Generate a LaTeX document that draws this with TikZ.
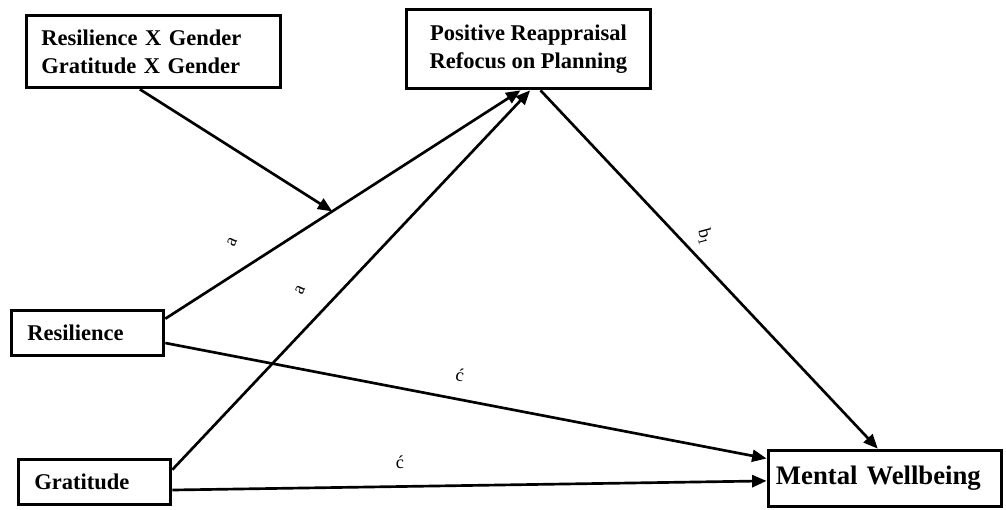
\documentclass[tikz,border=0pt]{standalone}
\usepackage{fontspec}
\setmainfont{Liberation Serif}
\usetikzlibrary{arrows.meta,positioning,calc}
\tikzset{
  varbox/.style={draw, line width=2.6pt, align=left, inner ysep=0pt,
    font=\bfseries\fontsize{16}{20}\selectfont},
  outbox/.style={varbox, font=\bfseries\fontsize{19}{22}\selectfont},
  effArc/.style={-{Triangle[length=3.6mm, width=3mm]}, line width=1.9pt},
  coefLabel/.style={font=\fontsize{13}{14}\selectfont, inner sep=1pt},
}
\begin{document}
\begin{tikzpicture}[x=0.025cm, y=-0.025cm]
    \fill[white] (0,0) rectangle (1006,509);
    \useasboundingbox (0,0) rectangle (1006,509);
    % variables
    \node[varbox, minimum width=6.35cm, minimum height=1.8cm, text width=5.6cm, inner xsep=0.375cm] (mod) at (153.5,51.5) {Resilience X Gender\\Gratitude X Gender};
    \node[varbox, align=center, minimum width=6.1cm, minimum height=1.975cm] (pr) at (528.5,49) {Positive Reappraisal\\Refocus on Planning};
    \node[varbox, minimum width=3.8cm, minimum height=1.125cm, text width=3.0cm, inner xsep=0.4cm] (res) at (87.5,333) {Resilience};
    \node[varbox, minimum width=3.8cm, minimum height=1.125cm, text width=3.0cm, inner xsep=0.4cm] (grat) at (94.5,482) {Gratitude};
    \node[outbox, minimum width=5.825cm, minimum height=1.4cm, text width=5.45cm, inner xsep=0.19cm] (mw) at (885,478.5) {Mental Wellbeing};
    % end points
    \coordinate (resUp) at ([yshift=-0.25cm]res.north east);
    \coordinate (gratUp) at ([yshift=-0.3cm]grat.north east);
    \coordinate (prInR) at ([xshift=-0.2cm]pr.south);
    \coordinate (prInG) at ([xshift=0.04cm]pr.south);
    \coordinate (modHit) at ($(resUp)!0.47!(prInR)$);
    % paths
    \draw[effArc] (resUp) -- (prInR);
    \draw[effArc] (gratUp) -- (prInG);
    \draw[effArc] ([xshift=-0.34cm]mod.south) -- (modHit);
    \draw[effArc] ([xshift=0.3cm]pr.south) -- ([xshift=-0.18cm]mw.north);
    \draw[effArc] ([yshift=-0.25cm]res.east) -- ([yshift=0.5cm]mw.west);
    \draw[effArc] ([yshift=-0.2cm]grat.east) -- ([yshift=-0.06cm]mw.west);
    % coefficients
    \node[coefLabel, rotate=65] (aRes) at (232,242) {a};
    \node[coefLabel, rotate=65] (aGrat) at (300,290) {a};
    \node[coefLabel, rotate=-75] (bOne) at (705,237) {b\textsubscript{1}};
    \node[coefLabel, rotate=-10] (cRes) at (460,375) {ć};
    \node[coefLabel] (cGrat) at (400,462) {ć};
  \end{tikzpicture}
\end{document}
